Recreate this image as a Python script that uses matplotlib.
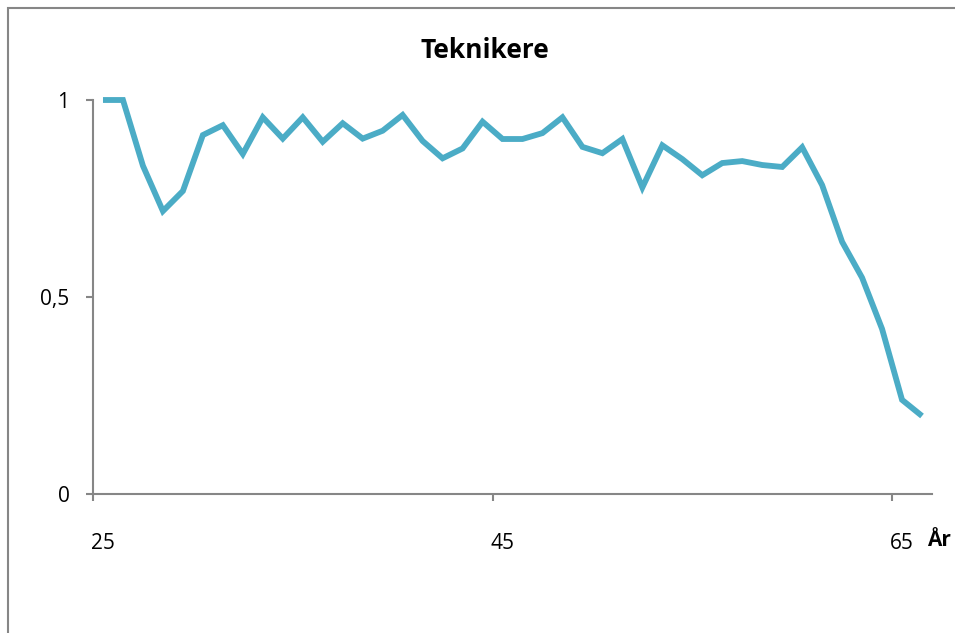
import matplotlib.pyplot as plt
from matplotlib.patches import Rectangle

# Andel (teknikere) etter alder
alder = list(range(25, 67))
andel = [1.0, 1.0, 0.833, 0.718, 0.769, 0.911, 0.936, 0.863, 0.956, 0.902,
         0.956, 0.894, 0.941, 0.902, 0.922, 0.962, 0.896, 0.852, 0.877, 0.945,
         0.901, 0.901, 0.916, 0.956, 0.881, 0.865, 0.901, 0.778, 0.885, 0.850,
         0.809, 0.840, 0.845, 0.835, 0.830, 0.880, 0.784, 0.640, 0.549, 0.419,
         0.239, 0.198]
x_etiketter = ['25', '45', '65']
y_ticks = [0, 0.5, 1]
y_etiketter = ['0', '0,5', '1']

plt.rcParams['font.family'] = ['Open Sans', 'DejaVu Sans']
grå = '#868686'

W, H = 955, 633
fig = plt.figure(figsize=(W / 100, H / 100), dpi=100)

# ramme rundt diagramområdet
fig.patches.append(Rectangle((8 / W, -0.1), 1.2, 1 - 8 / H + 0.1, transform=fig.transFigure,
                             fill=False, edgecolor=grå, linewidth=1.5))

ax = fig.add_axes([93 / W, (H - 494) / H, (932 - 93) / W, (494 - 100) / H])
ax.plot(alder, andel, color='#4BACC6', linewidth=4.2, solid_joinstyle='miter',
        solid_capstyle='butt', clip_on=False)

ax.set_xlim(24.5, 66.5)
ax.set_ylim(0, 1)
for s in ['top', 'right']:
    ax.spines[s].set_visible(False)
for s in ['left', 'bottom']:
    ax.spines[s].set_color(grå)
    ax.spines[s].set_linewidth(1.5)

ax.set_yticks(y_ticks)
ax.set_yticklabels(y_etiketter, fontsize=15)
ax.tick_params(axis='y', length=5, width=1.5, color=grå, pad=12)

ax.set_xticks([24.5, 44.5, 64.5])
ax.set_xticklabels([''] * 3)
ax.tick_params(axis='x', which='major', length=5, width=1.5, color=grå)
ax.set_xticks([25, 45, 65], minor=True)
ax.set_xticklabels(x_etiketter, minor=True, fontsize=15)
ax.tick_params(axis='x', which='minor', length=0, pad=28)

fig.text(485 / W, 1 - 50 / H, 'Teknikere', ha='center', va='center',
         fontsize=19, fontweight='bold')
fig.text(927 / W, 1 - 540 / H, 'År', ha='left', va='center',
         fontsize=15, fontweight='bold')

fig.savefig('out.png', dpi=100)
